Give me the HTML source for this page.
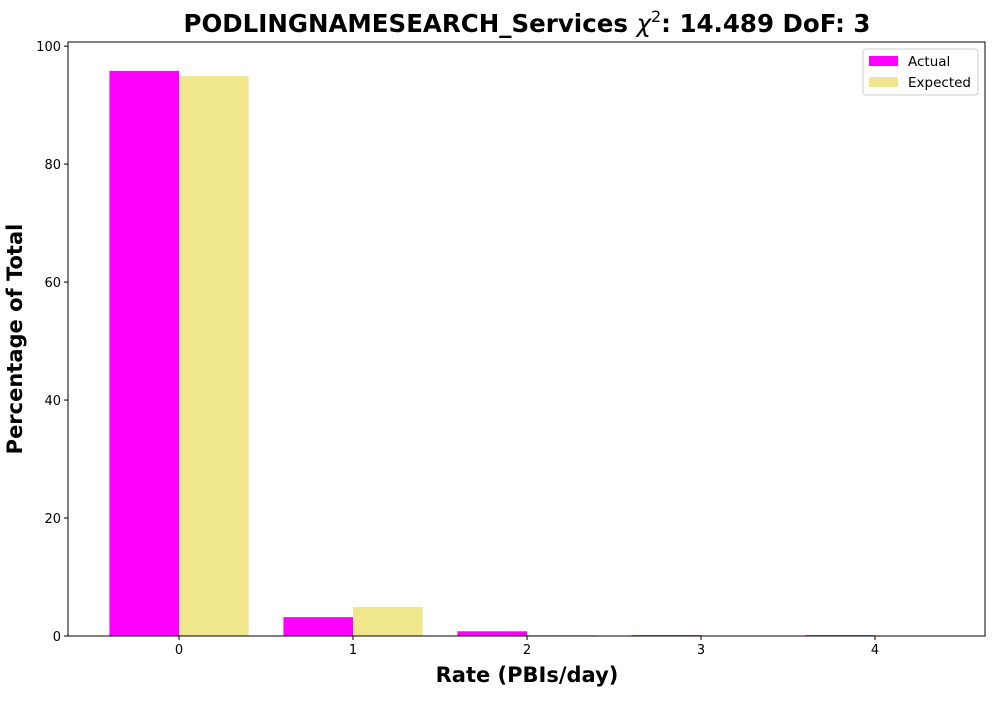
<!DOCTYPE html>
<html><head><meta charset="utf-8"><style>
body{margin:0;background:#fff;font-family:"DejaVu Sans","Liberation Sans",sans-serif;}
</style></head><body>
<svg id="chart" width="1000" height="700" xmlns="http://www.w3.org/2000/svg" font-family="DejaVu Sans, Liberation Sans, sans-serif">
<text x="527" y="32" text-anchor="middle" font-size="24.5" font-weight="bold">PODLINGNAMESEARCH_Services <tspan font-style="italic" font-weight="normal">χ</tspan><tspan font-size="16" dy="-10" font-weight="normal">2</tspan><tspan dy="10">: 14.489 DoF: 3</tspan></text>
<g id="bars"></g>
<rect x="68" y="42" width="917" height="594" fill="none" stroke="#000" stroke-width="1"/>
<g id="axes" font-size="13"></g>
<text x="527" y="682" text-anchor="middle" font-size="21" font-weight="bold">Rate (PBIs/day)</text>
<text transform="translate(22,339) rotate(-90)" text-anchor="middle" font-size="21" font-weight="bold">Percentage of Total</text>
<g>
<rect x="863" y="49" width="115" height="46" fill="#fff" stroke="#ccc" rx="3"/>
<rect x="869" y="56" width="29" height="10" fill="#ff00ff"/>
<text x="908" y="66" font-size="13.5">Actual</text>
<rect x="869" y="77" width="29" height="10" fill="#f0e68c"/>
<text x="908" y="87" font-size="13.5">Expected</text>
</g>
</svg>
<script>
const categories = [0, 1, 2, 3, 4];
const actual = [95.8, 3.2, 0.8, 0.15, 0.15];
const expected = [94.9, 4.9, 0.15, 0.02, 0.0];
const yTicks = [0, 20, 40, 60, 80, 100];
const NS = "http://www.w3.org/2000/svg";
const xMin = -0.638, xMax = 4.632, yMin = 0, yMax = 100.7;
const L = 68, R = 985, T = 42, B = 636;
function xs(v){return L + (v - xMin) / (xMax - xMin) * (R - L);}
function ys(v){return B - (v - yMin) / (yMax - yMin) * (B - T);}
const bars = document.getElementById('bars');
function bar(x0, x1, v, color, name){
  const r = document.createElementNS(NS, 'rect');
  r.setAttribute('x', xs(x0)); r.setAttribute('width', xs(x1) - xs(x0));
  r.setAttribute('y', ys(v)); r.setAttribute('height', ys(0) - ys(v));
  r.setAttribute('fill', color);
  
  
  bars.appendChild(r);
}
categories.forEach((c, i) => {
  bar(c - 0.4, c, actual[i], '#ff00ff', 'bar-actual-' + c);
  bar(c, c + 0.4, expected[i], '#f0e68c', 'bar-expected-' + c);
});
const axes = document.getElementById('axes');
function line(x1,y1,x2,y2){const l=document.createElementNS(NS,'line');l.setAttribute('x1',x1);l.setAttribute('y1',y1);l.setAttribute('x2',x2);l.setAttribute('y2',y2);l.setAttribute('stroke','#000');axes.appendChild(l);}
function txt(x,y,s,anchor,name){const t=document.createElementNS(NS,'text');t.setAttribute('x',x);t.setAttribute('y',y);t.setAttribute('text-anchor',anchor);t.textContent=s;


axes.appendChild(t);}
categories.forEach(c => { line(xs(c), B, xs(c), B + 4); txt(xs(c), B + 18, String(c), 'middle', 'x-tick-label-' + c); });
yTicks.forEach(v => { line(L - 4, ys(v), L, ys(v)); txt(L - 7, ys(v) + 5, String(v), 'end', 'y-tick-label-' + v); });
</script>
</body></html>
